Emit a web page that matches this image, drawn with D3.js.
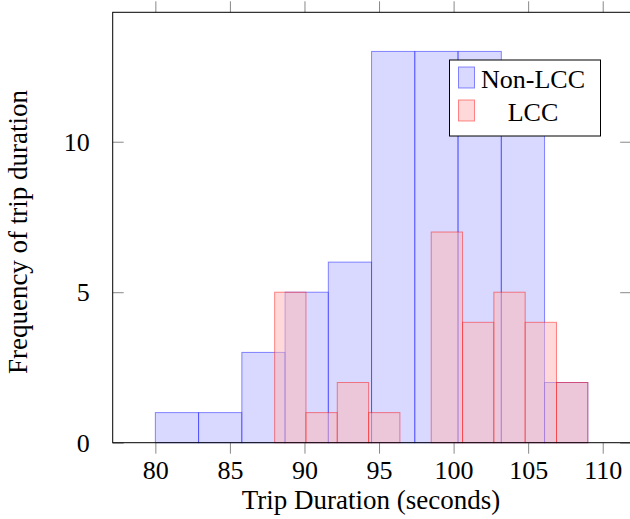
<!DOCTYPE html>
<html>
<head>
<meta charset="utf-8">
<script src="https://cdn.jsdelivr.net/npm/d3@7"></script>
<style>
  body { margin: 0; background: #fff; }
  text { font-family: "Liberation Serif", "Times New Roman", serif; fill: #000; }
</style>
</head>
<body>
<svg id="chart" width="630" height="519"></svg>
<script>
// ヒストグラムのデータ（ビンの境界と度数）
var nonLccBins = [80, 82.9, 85.8, 88.7, 91.6, 94.5, 97.4, 100.3, 103.2, 106.1, 109.0];
var nonLccCounts = [1, 1, 3, 5, 6, 13, 13, 13, 12, 2];
var lccBins = [88, 90.1, 92.2, 94.3, 96.4, 98.5, 100.6, 102.7, 104.8, 106.9, 109.0];
var lccCounts = [5, 1, 2, 1, 0, 7, 4, 5, 4, 2];
var xTicks = [80, 85, 90, 95, 100, 105, 110];
var yTicks = [0, 5, 10];
var seriesNames = ['Non-LCC', 'LCC'];

var svg = d3.select('#chart');
var fontSize = '26px';
var labelSize = '27px';

// 軸の範囲（window.top と衝突しないように名前を変える）
var plotLeft = 112.7, plotRight = 631.2, plotTop = 12.3, plotBottom = 442.7;

var x = d3.scaleLinear().domain([77.14, 111.91]).range([plotLeft, plotRight]);
var y = d3.scaleLinear().domain([0, 14.30]).range([plotBottom, plotTop]);

// ビン配列 -> 棒データ
function toBars(bins, counts) {
  return counts.map(function(c, i) {
    return { x0: bins[i], x1: bins[i + 1], n: c };
  });
}

// 塗りは red!30 / blue!30 を半透明で重ねる
var series = [
  { name: seriesNames[0], bars: toBars(nonLccBins, nonLccCounts), color: 'blue', fill: '#b3b3ff' },
  { name: seriesNames[1], bars: toBars(lccBins, lccCounts), color: 'red', fill: '#ffb3b3' }
];

var plot = svg.append('g');

series.forEach(function(s) {
  plot.append('g')
    .selectAll('rect')
    .data(s.bars)
    .enter()
    .append('rect')
    .attr('x', function(d) { return x(d.x0); })
    .attr('y', function(d) { return y(d.n); })
    .attr('width', function(d) { return x(d.x1) - x(d.x0); })
    .attr('height', function(d) { return y(0) - y(d.n); })
    .attr('fill', s.fill)
    .attr('fill-opacity', 0.5)
    .attr('stroke', s.color)
    .attr('stroke-opacity', 0.45)
    .attr('stroke-width', 1);
});

// 目盛り
function styleAxis(g) {
  g.select('.domain').remove();
  g.selectAll('.tick line').attr('stroke', '#888').attr('stroke-width', 1);
  g.selectAll('.tick text').style('font-size', fontSize).attr('fill', '#000');
}

svg.append('g')
  .attr('transform', 'translate(0,' + plotBottom + ')')
  .call(d3.axisBottom(x).tickValues(xTicks).tickSize(11).tickPadding(5).tickFormat(d3.format('d')))
  .call(styleAxis)
  .selectAll('.tick text').attr('dy', '0.78em');

svg.append('g')
  .attr('transform', 'translate(0,' + plotTop + ')')
  .call(d3.axisTop(x).tickValues(xTicks).tickSize(11).tickFormat(''))
  .call(styleAxis);

svg.append('g')
  .attr('transform', 'translate(' + plotLeft + ',0)')
  .call(d3.axisLeft(y).tickValues(yTicks).tickSize(-11).tickPadding(23).tickFormat(d3.format('d')))
  .call(styleAxis);

svg.append('g')
  .attr('transform', 'translate(' + plotRight + ',0)')
  .call(d3.axisRight(y).tickValues(yTicks).tickSize(-11).tickFormat(''))
  .call(styleAxis);

// 枠
svg.append('rect')
  .attr('x', plotLeft).attr('y', plotTop)
  .attr('width', plotRight - plotLeft).attr('height', plotBottom - plotTop)
  .attr('fill', 'none').attr('stroke', '#000').attr('stroke-width', 1);

// 軸ラベル
svg.append('text')
  .attr('x', 371).attr('y', 509)
  .attr('text-anchor', 'middle')
  .style('font-size', labelSize)
  .text('Trip Duration (seconds)');

svg.append('text')
  .attr('transform', 'translate(27,232) rotate(-90)')
  .attr('text-anchor', 'middle')
  .style('font-size', labelSize)
  .text('Frequency of trip duration');

// 凡例
var legend = svg.append('g');
legend.append('rect')
  .attr('x', 449.5).attr('y', 60)
  .attr('width', 151).attr('height', 76)
  .attr('fill', '#fff').attr('stroke', '#000').attr('stroke-width', 1);

var items = legend.selectAll('g.item')
  .data(series)
  .enter()
  .append('g')
  .attr('class', 'item')
  .attr('transform', function(d, i) { return 'translate(0,' + (i * 33) + ')'; });

items.append('rect')
  .attr('x', 458.5).attr('y', 67)
  .attr('width', 16).attr('height', 21)
  .attr('fill', function(d) { return d.fill; })
  .attr('fill-opacity', 0.5)
  .attr('stroke', function(d) { return d.color; })
  .attr('stroke-opacity', 0.45);

items.append('text')
  .attr('x', 533).attr('y', 88)
  .attr('text-anchor', 'middle')
  .style('font-size', fontSize)
  .text(function(d) { return d.name; });
</script>
</body>
</html>
